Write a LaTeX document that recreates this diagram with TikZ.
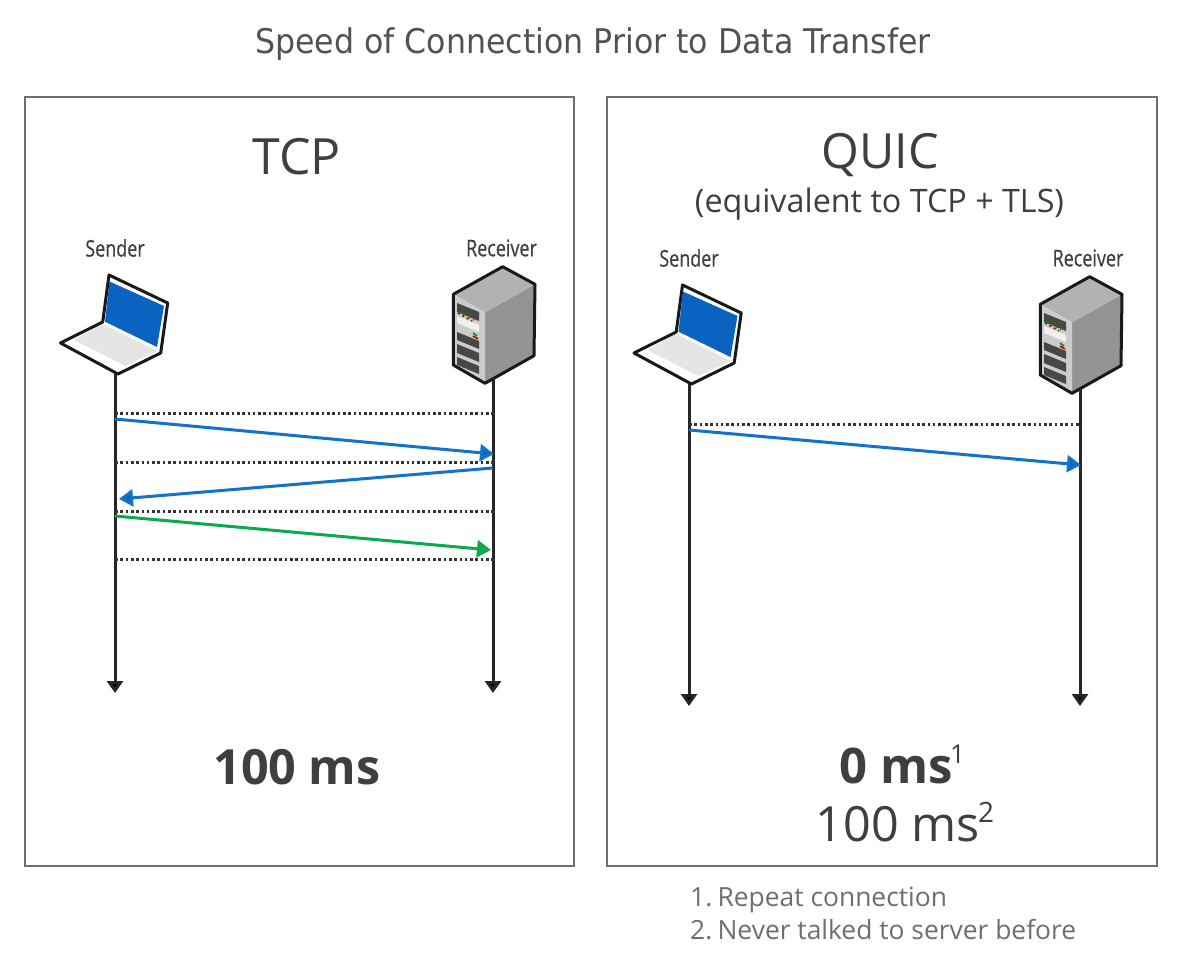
\documentclass[tikz,border=0pt]{standalone}
\usepackage{fontspec}
\setmainfont{Open Sans}
\newfontfamily\titlefont{DejaVu Sans}
\newfontfamily\devfont[FakeBold=0.6]{Open Sans}
\usetikzlibrary{arrows.meta}
\definecolor{ink}{HTML}{3F3F3F}
\definecolor{framec}{HTML}{6E6E6E}
\definecolor{noteC}{HTML}{6F6F6F}
\definecolor{bluescr}{HTML}{0B63C1}
\definecolor{bluearr}{HTML}{1273C9}
\definecolor{greenarr}{HTML}{0BAA4E}
\tikzset{
 x=1pt,y=-1pt,
 panel/.style={draw=framec,line width=1.8pt,fill=white},
 lifeline/.style={draw=black!85,line width=3pt,-{Triangle[length=12pt,width=16pt,fill=black]}},
 tick/.style={draw=black!80,line width=3pt,dash pattern=on 2.6pt off 2.7pt},
 msgblue/.style={draw=bluearr,line width=3pt,-{Triangle[length=14pt,width=17pt,fill=bluescr]}},
 msggreen/.style={draw=greenarr,line width=3pt,-{Triangle[length=14pt,width=17pt]}},
 devlabel/.style={font=\devfont\fontsize{23}{26}\selectfont,text=ink,xscale=.78,inner sep=0pt},
 outline/.style={draw=black!90,line width=3pt,line join=round},
}
\newcommand{\laptop}{%
 \fill[white] (109,275)--(167.7,303)--(160.7,353)--(118,374)--(60.5,343)--(102.7,322)--cycle;
 \fill[bluescr] (109.5,281.5)--(164,306)--(157,347)--(105,321.7)--cycle;
 \fill[black!10] (103,324)--(157,351)--(125,366)--(74,340)--cycle;
 \draw[outline] (102.7,322)--(109,275)--(167.7,303)--(160.7,353)--(118,374)--(60.5,343)--cycle;
}
\newcommand{\server}{%
 \fill[black!42] (485,312.3)--(535,284.3)--(534,355.7)--(485,383.3)--cycle;
 \fill[black!30] (502.7,266.7)--(535,284.3)--(485,312.3)--(453.3,294.3)--cycle;
 \fill[black!20] (453.3,294.3)--(485,312.3)--(485,383.3)--(453.3,365)--cycle;
 \foreach \a/\h in {303/9,332/8,344/9,357/8}{
   \fill[black!72] (457,\a)--(479,\a+9)--(479,\a+9+\h)--(457,\a+\h)--cycle;}
 \fill[black!6] (457,316)--(479,325)--(479,332)--(457,323)--cycle;
 \draw[red!70!black,line width=1.6pt,dash pattern=on 2pt off 3pt] (458,313)--(472,321);
 \draw[green!60!black,line width=1.6pt,dash pattern=on 2pt off 3pt] (460,312)--(474,320);
 \draw[red!70!black,line width=1.6pt] (473,336)--(478,339);
 \draw[green!60!black,line width=1.6pt] (473,333)--(477,336);
 \draw[outline] (502.7,266.7)--(535,284.3)--(534,355.7)--(485,383.3)--(453.3,365)--(453.3,294.3)--cycle;
}
\begin{document}
\begin{tikzpicture}
\useasboundingbox (0,0) rectangle (1180,971);
\fill[white] (0,0) rectangle (1180,971);
\node[font=\titlefont\fontsize{34}{40}\selectfont,text=black!68,xscale=.93] (title) at (593,44) {Speed of Connection Prior to Data Transfer};
\node[panel,minimum width=549pt,minimum height=769pt,anchor=north west,inner sep=0pt] (tcpbox) at (24,96) {};
\node[panel,minimum width=550pt,minimum height=769pt,anchor=north west,inner sep=0pt] (quicbox) at (606,96) {};
\node[font=\fontsize{50}{60}\selectfont,text=ink] (tcp) at (296.5,157) {TCP};
\node[font=\fontsize{48.5}{60}\selectfont,text=ink] (quic) at (880,155) {QUIC};
\node[font=\fontsize{32.3}{38}\selectfont,text=ink] (equiv) at (879.5,204) {(equivalent to TCP + TLS)};
% TCP
\node[devlabel] (s1) at (115,248) {Sender};
\node[devlabel] (r1) at (501.5,248) {Receiver};
\coordinate (s1a) at (115,374);
\coordinate (s1b) at (115,693);
\coordinate (r1a) at (493,380);
\coordinate (r1b) at (493,693);
\draw[lifeline] (s1a)--(s1b);
\draw[lifeline] (r1a)--(r1b);
\laptop \server
\foreach \n/\y in {a/413,b/462,c/511,d/559}{
 \coordinate (l\n) at (115,\y); \coordinate (m\n) at (495,\y);
 \draw[tick] (l\n)--(m\n);}
\coordinate (p1) at (115,419); \coordinate (q1) at (494,454);
\coordinate (q2) at (493,468); \coordinate (p2) at (119,499);
\coordinate (p3) at (115,516); \coordinate (q3) at (491,550);
\draw[msgblue] (p1)--(q1);
\draw[msgblue] (q2)--(p2);
\draw[msggreen] (p3)--(q3);
\node[font=\bfseries\fontsize{48.5}{56}\selectfont,text=ink] (t100) at (297,767) {100 ms};
% QUIC
\node[devlabel] (s2) at (689,258) {Sender};
\node[devlabel] (r2) at (1088,258) {Receiver};
\coordinate (s2a) at (689,384);
\coordinate (s2b) at (689,706);
\coordinate (r2a) at (1080,390);
\coordinate (r2b) at (1080,706);
\draw[lifeline] (s2a)--(s2b);
\draw[lifeline] (r2a)--(r2b);
\begin{scope}[shift={(573.5,10)}]\laptop\end{scope}
\begin{scope}[shift={(587,10)}]\server\end{scope}
\coordinate (le) at (689,424); \coordinate (me) at (1082,424);
\draw[tick] (le)--(me);
\coordinate (p4) at (689,430); \coordinate (q4) at (1081,465);
\draw[msgblue] (p4)--(q4);
\node[font=\bfseries\fontsize{49}{56}\selectfont,text=ink,anchor=base] (z) at (896,783) {0 ms};
\node[font=\fontsize{26}{30}\selectfont,text=ink,anchor=base west,inner sep=0pt] (z1) at (950,763) {1};
\node[font=\fontsize{48.5}{56}\selectfont,text=ink,anchor=base] (h) at (898,841) {100 ms};
\node[font=\fontsize{28}{32}\selectfont,text=ink,anchor=base west,inner sep=0pt] (h2) at (978,822) {2};
\node[font=\fontsize{26.4}{31}\selectfont,text=noteC,anchor=base west,inner sep=0pt] (n1) at (690,906) {1.\hspace{.2em}Repeat connection};
\node[font=\fontsize{26.4}{31}\selectfont,text=noteC,anchor=base west,inner sep=0pt] (n2) at (690,939) {2.\hspace{.2em}Never talked to server before};
\end{tikzpicture}
\end{document}
